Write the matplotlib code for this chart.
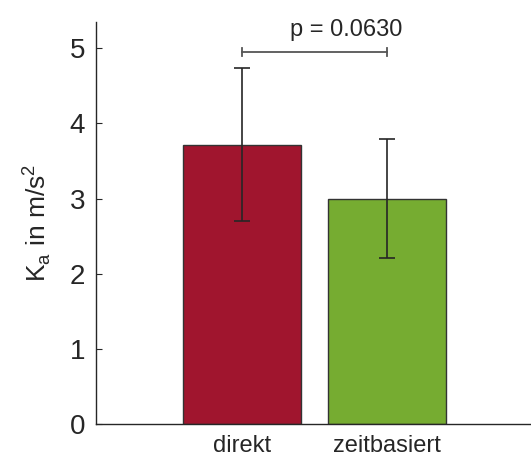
import matplotlib
matplotlib.use("Agg")
import matplotlib.pyplot as plt

# data
categories = ["direkt", "zeitbasiert"]
means = [3.72, 3.00]
errors = [1.02, 0.79]
bar_colors = ["#A0152E", "#76AC31"]
p_text = "p = 0.0630"
p_level = 4.95

plt.rcParams["font.family"] = ["Liberation Sans", "DejaVu Sans"]
text_col = "#262626"

fig = plt.figure(figsize=(5.31, 4.58), dpi=100)
ax = fig.add_axes([0.181, 0.074, 0.822, 0.878])

xs = [1, 2]
ax.bar(xs, means, width=0.81, color=bar_colors, edgecolor="#333333", linewidth=1.0, zorder=2)
ax.errorbar(xs, means, yerr=errors, fmt="none", ecolor="#262626", elinewidth=1.2,
            capsize=5.5, capthick=1.2, zorder=3)

# significance bracket
ax.plot([1, 2], [p_level, p_level], color="#555555", lw=1.3, zorder=3)
for xe in [1, 2]:
    ax.plot([xe, xe], [p_level - 0.05, p_level + 0.05], color="#555555", lw=1.3, zorder=3)
ax.text(1.72, 5.1, p_text, ha="center", va="bottom", fontsize=17, color=text_col)

ax.set_xlim(0, 3)
ax.set_ylim(0, 5.35)
ax.set_xticks(xs)
ax.set_xticklabels(categories, fontsize=17, color=text_col)
ax.set_yticks(range(0, 6))
ax.tick_params(axis="y", direction="in", length=4, labelsize=20, labelcolor=text_col,
               color=text_col, pad=8)
ax.tick_params(axis="x", length=0, pad=8)
ax.set_ylabel(r"K$_\mathregular{a}$ in m/s$^\mathregular{2}$", fontsize=19, color=text_col, labelpad=12)

for s in ["top", "right"]:
    ax.spines[s].set_visible(False)
for s in ["left", "bottom"]:
    ax.spines[s].set_color(text_col)
    ax.spines[s].set_linewidth(1.0)

fig.savefig("out.png", dpi=100)
